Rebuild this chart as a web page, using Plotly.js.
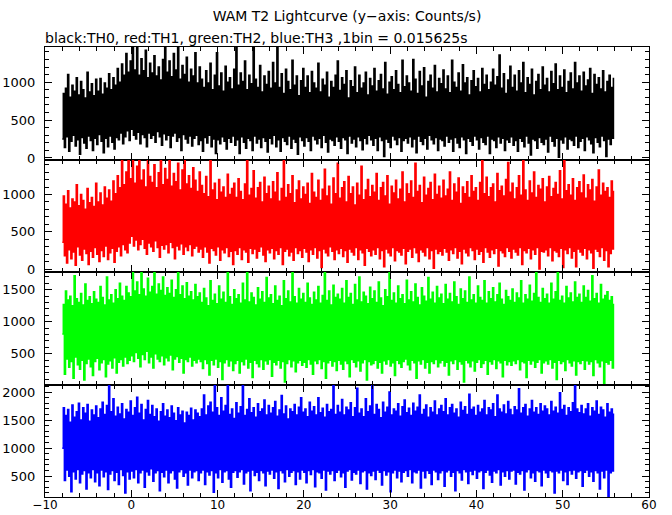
<!DOCTYPE html>
<html>
<head>
<meta charset="utf-8">
<script src="https://cdn.plot.ly/plotly-3.0.1.min.js"></script>
<style>html,body{margin:0;padding:0;background:#fff;}</style>
</head>
<body>
<div id="chart" style="width:672px;height:515px;"></div>
<script>
// Light curve envelope: per 0.25 s chunk, min and max count rate (counts/s)
const tStart = -8.0;      // first chunk start (s)
const chunk = 0.25;       // chunk width (s)

const th0Min = [
250,140,280,90,220,300,160,240,50,270,200,130,290,230,100,260,
180,310,220,70,260,150,290,210,120,270,240,330,190,280,360,230,
380,300,250,340,190,310,270,150,330,260,300,210,350,280,170,320,
240,300,140,290,330,220,270,100,310,250,200,290,160,260,300,180,
230,90,270,200,300,150,250,60,240,190,280,220,120,260,210,290,
170,240,60,280,210,130,260,230,100,290,200,250,140,270,220,80,
260,190,300,150,240,90,270,220,180,290,130,250,210,50,280,230,
160,270,220,100,290,240,190,260,140,300,210,80,250,230,170,280,
220,130,270,240,60,290,200,250,150,280,230,110,260,190,300,240,
170,260,100,280,230,20,250,210,140,290,240,180,270,90,230,260,
200,280,150,250,70,290,220,180,260,120,300,240,190,270,100,250,
230,160,290,210,250,90,270,200,140,280,240,60,260,220,170,290,
240,120,270,210,180,290,60,250,230,140,280,200,260,100,240,210,
280,170,230,90,260,220,150,290,200,40,250,230,130,270,210,180,
250,80,290,220,160,260,10,240,200,280,120,250,230,170,290,140,
220,260,100,280,240,190,70,270,210,150,290,230,20,250,180,260];
const th0Max = [
850,920,1100,800,960,880,1060,830,1010,900,790,1130,870,980,820,1040,
880,1050,840,990,920,1110,900,1060,960,1180,1000,1240,1090,1380,1130,1280,
1470,1160,1470,1090,1310,1150,1420,1060,1250,1120,1350,1080,1200,1030,1300,1470,
1130,1280,1070,1380,1160,1470,1040,1220,1100,1330,1000,1170,1080,1390,990,1200,
1040,930,1150,990,1250,900,1090,1390,950,1120,880,1210,1000,1060,910,1170,
1470,960,1120,1010,1280,900,1090,980,1470,1040,930,1220,870,1080,970,1140,
920,1260,990,1470,930,1110,850,1170,1010,900,1290,960,1080,820,1020,1180,
930,1080,860,1140,990,920,1250,870,1040,960,1130,800,1010,930,1090,1280,
890,1060,970,1150,790,1020,940,1200,860,1090,920,990,1130,830,1050,950,
1180,880,1020,1100,910,1260,840,1000,1070,900,1150,970,860,1290,940,1080,
990,880,1300,1040,850,1140,950,1190,800,1010,1090,920,1220,870,1050,980,
1160,910,1080,860,1290,1000,930,1120,880,1230,990,1060,830,1020,1150,940,
1050,870,1180,970,1090,900,1000,1170,960,1070,1360,920,1110,850,1030,1210,
930,1090,880,1150,990,1260,860,1060,970,1170,830,1010,1100,900,1200,960,
1050,870,1140,980,1240,900,1080,930,1160,860,1010,1120,910,1260,990,1080,
880,1130,950,1030,1180,850,1100,970,1060,910,1150,870,1010,1090,930,1060];

const th1Min = [
360,180,80,260,140,230,50,300,190,120,270,210,60,240,160,290,
200,100,250,170,310,130,220,280,90,240,300,180,330,260,220,350,
440,310,390,260,330,400,280,200,350,300,240,380,290,160,320,270,
330,220,360,290,140,310,260,340,200,300,250,330,180,280,310,230,
270,160,300,230,80,280,250,190,300,120,260,220,290,170,240,60,
250,200,290,130,260,230,90,280,210,270,150,240,300,190,100,260,
220,280,140,250,200,290,60,240,270,180,230,120,290,210,250,160,
280,230,100,260,200,290,150,250,20,270,220,180,300,240,130,260,
210,280,170,250,90,270,230,190,290,130,260,220,50,280,240,180,
260,200,290,140,250,30,270,220,180,290,110,250,230,190,280,70,
240,270,160,290,220,100,260,230,180,290,140,250,10,270,210,240,
190,280,230,120,260,210,290,150,240,70,270,220,180,290,250,130,
270,200,240,90,290,230,160,260,210,280,40,250,220,170,290,240,
150,270,230,190,290,60,250,220,280,140,260,200,290,0,240,230,
260,180,290,110,250,230,170,280,20,260,210,290,150,240,30,270,
230,190,280,140,260,220,10,270,240,170,290,120,250,30,210,270];
const th1Max = [
980,870,1050,820,940,900,1130,850,1000,920,800,1080,890,960,840,1150,
900,1020,860,1100,950,1060,910,1180,1010,1250,1090,1470,1130,1300,1470,1210,
1470,1150,1380,1470,1190,1330,1100,1470,1240,1160,1400,1090,1290,1470,1130,1350,
1200,1470,1110,1280,1170,1420,1060,1330,1470,1140,1250,1080,1360,1190,1040,1300,
1120,1010,1240,970,1470,1060,1150,930,1200,1030,1100,960,1270,1000,1080,1150,
960,1210,1040,930,1140,1470,990,1080,1320,950,1090,1160,900,1230,1010,1110,
940,1170,1030,1290,910,1080,1470,960,1130,1010,1250,890,1060,1180,940,1100,
1000,1150,880,1280,1030,960,1190,920,1070,1340,980,1110,870,1220,1010,1420,
950,1090,1170,900,1240,1010,1100,860,1150,990,1380,930,1060,1200,970,1120,
1030,1280,920,1090,1160,980,1250,870,1110,1020,1190,940,1070,1300,900,1140,
1010,1180,960,1420,1040,1120,890,1230,990,1080,1160,930,1270,1000,1110,950,
1190,980,1070,1300,920,1140,1030,1220,880,1100,1010,1170,960,1250,1040,1090,
920,1160,1460,1010,1230,970,1090,1140,900,1280,1050,1110,980,1200,1430,1030,
1150,940,1090,1250,990,1460,1060,920,1180,1020,1300,960,1120,1070,1210,900,
1100,1240,970,1080,1160,1000,1320,940,1460,1050,1130,990,1210,920,1090,1170,
1020,1260,950,1130,1060,1200,910,1100,1330,990,1150,1040,1090,960,1180,1050];

const th2Min = [
810,180,420,290,380,120,450,330,260,400,90,350,420,300,160,380,
430,250,360,410,140,340,390,280,440,200,370,410,310,450,350,400,
470,380,520,430,300,490,410,540,360,450,280,500,420,380,470,330,
440,390,480,250,420,460,370,430,200,410,380,450,310,400,360,420,
380,270,410,350,170,400,330,420,290,380,100,360,410,310,390,240,
350,400,200,380,330,420,280,370,130,400,350,300,410,260,390,340,
410,150,370,330,400,280,380,60,350,410,300,390,220,360,400,320,
370,290,410,340,180,390,350,410,270,380,120,360,400,310,380,240,
400,340,260,390,350,140,410,370,300,390,230,360,410,90,380,330,
350,400,280,370,200,390,340,410,310,360,160,400,350,290,380,420,
330,250,400,360,120,390,340,410,280,370,200,380,350,410,300,360,
400,310,370,170,390,350,410,260,380,340,60,400,360,300,390,230,
370,410,290,350,400,180,380,340,410,270,390,360,140,400,330,380,
320,390,350,410,250,380,360,130,400,340,390,290,370,410,200,360,
390,340,410,280,370,100,400,350,380,240,410,360,310,390,170,380,
350,400,260,390,340,380,160,410,360,300,390,40,370,340,400,280];
const th2Max = [
1270,1480,1340,1400,1250,1720,1360,1300,1440,1260,1590,1330,1390,1280,1470,1350,
1300,1550,1380,1260,1700,1340,1420,1290,1500,1360,1600,1400,1330,1550,1450,1390,
1780,1480,1620,1420,1780,1510,1400,1680,1460,1550,1780,1430,1590,1490,1700,1410,
1530,1440,1650,1380,1500,1780,1420,1560,1360,1610,1400,1470,1340,1580,1390,1450,
1300,1520,1370,1250,1640,1330,1430,1280,1560,1350,1460,1300,1780,1390,1270,1500,
1360,1420,1290,1600,1340,1780,1310,1450,1380,1260,1530,1350,1470,1300,1690,1370,
1420,1280,1560,1330,1400,1250,1640,1360,1480,1310,1780,1390,1290,1520,1350,1440,
1300,1600,1370,1270,1460,1340,1550,1290,1410,1780,1330,1480,1260,1570,1380,1430,
1350,1520,1290,1640,1380,1440,1270,1580,1340,1700,1310,1460,1400,1280,1540,1360,
1480,1300,1620,1370,1250,1500,1390,1780,1330,1450,1290,1560,1360,1420,1280,1650,
1340,1470,1310,1590,1380,1260,1530,1400,1320,1690,1350,1460,1290,1550,1370,1430,
1280,1580,1350,1440,1310,1620,1390,1270,1510,1360,1480,1300,1700,1340,1420,1290,
1560,1380,1330,1640,1290,1470,1360,1530,1310,1420,1600,1350,1270,1490,1390,1330,
1510,1300,1450,1370,1640,1290,1420,1350,1570,1320,1440,1780,1380,1300,1520,1360,
1430,1290,1600,1350,1470,1780,1330,1400,1290,1550,1370,1450,1310,1620,1380,1430,
1300,1560,1380,1490,1320,1720,1360,1440,1290,1580,1350,1410,1470,1330,1390,1280];

const th3Min = [
1000,420,610,500,220,580,450,620,380,540,600,270,560,470,620,400,
560,330,610,490,580,260,540,600,420,570,350,620,510,200,580,450,
590,470,620,380,560,610,300,580,520,630,410,560,600,240,570,490,
610,380,560,600,450,290,580,620,500,560,340,610,470,580,600,420,
560,610,350,580,520,600,210,560,470,620,390,580,600,450,300,570,
600,480,580,620,360,560,590,240,610,510,570,420,600,560,330,590,
540,610,460,580,280,600,560,400,620,500,570,600,350,580,450,610,
570,380,600,530,620,310,580,560,460,610,250,590,540,600,420,570,
610,490,560,300,590,620,430,570,540,610,370,580,600,270,560,510,
590,440,610,570,340,600,520,580,220,560,610,470,590,400,570,600,
500,620,380,580,560,610,290,590,470,600,550,350,610,580,440,560,
600,320,580,610,500,570,240,600,560,430,620,580,370,590,530,610,
460,580,600,280,570,610,520,390,590,560,620,340,580,500,600,450,
590,610,360,570,540,600,250,580,620,470,560,410,600,580,330,610,
560,480,600,580,200,590,560,610,420,580,350,600,540,610,460,580,
600,320,570,610,500,580,410,600,560,270,590,470,610,130,560,590];
const th3Max = [
1720,1580,1690,1460,1770,1550,1650,1800,1500,1720,1620,1780,1480,1680,1590,1750,
1540,1700,1820,1600,1760,2140,1650,1880,1570,1730,1610,1790,1520,1690,1640,1840,
1580,1720,1910,1620,1780,1500,1690,1850,1600,1760,1560,1700,1480,1650,1790,1570,
1680,1540,1750,1620,1490,1720,1590,1660,1450,1640,1580,1710,1500,1680,1620,1560,
1700,1950,1590,1750,1820,1640,2140,1720,1580,1900,1660,1760,2140,1600,1700,1530,
1810,1620,1740,2140,1580,1690,1880,1630,1720,1550,1790,1650,1700,1860,1590,1760,
1620,1720,1830,1570,1680,1940,1610,1750,1520,1700,1650,1780,1590,1730,1900,1640,
1700,1560,1820,1660,1740,1590,1900,1630,1710,1550,1780,1650,1690,2140,1600,1760,
1640,1870,1590,1730,1680,1810,1560,1720,2070,1620,1700,1560,1880,1650,1750,2140,
1600,1780,1690,1540,1820,1640,1730,2000,1590,1700,1660,1790,1570,1740,1860,1630,
1710,1580,1800,1660,1730,1950,1600,1690,1770,1550,1720,1640,1840,1590,1700,1760,
1650,1880,1590,1720,1780,1620,1700,1550,1820,1670,1740,1600,1960,1690,1730,1580,
1760,1640,1700,1850,1590,1720,1680,1790,1560,1950,1700,1640,1770,1610,1830,1690,
1590,1740,1680,2060,1620,1720,1780,1570,1700,1850,1640,1720,1600,1790,1660,1750,
1700,1590,1830,1660,1730,1620,1990,1690,1760,1580,1720,1650,1810,2140,1700,1630,
1760,1610,1700,1790,1570,1720,1660,1840,1600,1730,1680,1550,1790,1640,1700,1620];

const seriesNames = ['TH0','TH1','TH2','TH3'];
const seriesMin = [th0Min, th1Min, th2Min, th3Min];
const seriesMax = [th0Max, th1Max, th2Max, th3Max];
const colors = ['#000000','#ff0000','#00ff00','#0000ff'];
const yRanges = [[-20,1465],[-40,1470],[20,1778],[126,2137]];
const xTickVals = [-10,0,10,20,30,40,50,60];

const traces = [];
for (let s = 0; s < 4; s++) {
  const xs = [], ys = [];
  for (let k = 0; k < seriesMin[s].length; k++) {
    xs.push(tStart + k*chunk);          ys.push(seriesMin[s][k]);
    xs.push(tStart + k*chunk + chunk/2); ys.push(seriesMax[s][k]);
  }
  traces.push({
    type:'scatter', mode:'lines', name: seriesNames[s],
    x: xs, y: ys,
    xaxis: 'x' + (s+1), yaxis: 'y' + (s+1),
    line: {color: colors[s], width: 1.6, shape: 'hv'},
    hoverinfo: 'skip'
  });
}

const font = {family:'DejaVu Sans, Liberation Sans, sans-serif', size:13, color:'#000'};
const layout = {
  width: 672, height: 515,
  margin: {l:45, r:23, t:47, b:18, pad:0},
  paper_bgcolor:'#fff', plot_bgcolor:'#fff',
  showlegend:false,
  font: font,
  title: {text:'WAM T2 Lightcurve (y\u2212axis: Counts/s)', x:0.5, xref:'paper', xanchor:'center',
          y: 1 - 16/515, yref:'container', yanchor:'middle', font:{family:font.family, size:14, color:'#000'}},
  annotations: [{text:'black:TH0, red:TH1, green:TH2, blue:TH3 ,1bin = 0.015625s',
    xref:'paper', yref:'paper', x:(43-45)/604, y:(497-37.5)/450, xanchor:'left', yanchor:'middle',
    showarrow:false, font:{family:font.family, size:14, color:'#000'}}]
};
for (let s = 0; s < 4; s++) {
  const n = s+1;
  const top = 1 - s*0.25, bot = top - 0.25;
  layout['xaxis' + (n===1?'':n)] = {
    domain:[0,1], anchor:'y'+n, range:[-10,60], tickvals:xTickVals,
    showticklabels: s===3, ticks:'inside', ticklen:7, tickwidth:1, tickcolor:'#000',
    minor:{dtick:2, tick0:0, ticks:'inside', ticklen:4, tickwidth:1, tickcolor:'#000', showgrid:false},
    showline:true, linecolor:'#000', linewidth:1, mirror:'allticks',
    showgrid:false, zeroline:false, ticklabelstandoff:-3,
    tickfont:{family:font.family, size:12, color:'#000'}
  };
  layout['yaxis' + (n===1?'':n)] = {
    domain:[bot, top], anchor:'x'+n, range:yRanges[s], dtick:500, tick0:0,
    ticks:'inside', ticklen:7, tickwidth:1, tickcolor:'#000',
    minor:{dtick:100, tick0:0, ticks:'inside', ticklen:4, tickwidth:1, tickcolor:'#000', showgrid:false},
    showline:true, linecolor:'#000', linewidth:1, mirror:'allticks',
    showgrid:false, zeroline:false, ticklabelstandoff:6,
    tickfont:{family:font.family, size:13, color:'#000'}
  };
}
Plotly.newPlot('chart', traces, layout, {staticPlot:true, displayModeBar:false});
</script>
</body>
</html>
